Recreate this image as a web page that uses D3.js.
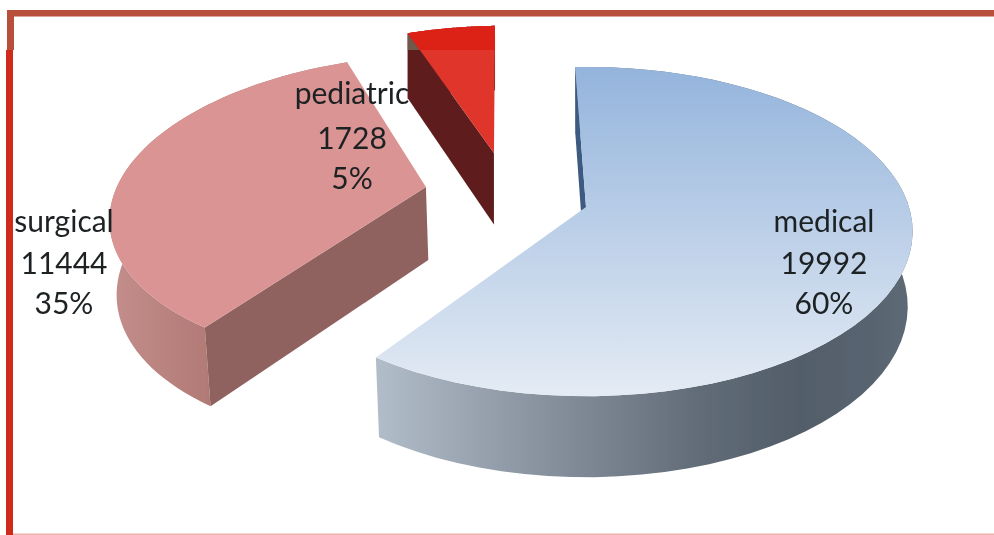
<!DOCTYPE html>
<html>
<head>
<meta charset="utf-8">
<script src="https://cdn.jsdelivr.net/npm/d3@7/dist/d3.min.js"></script>
<style>
html, body { margin: 0; padding: 0; background: #fff; overflow: hidden; }
svg { display: block; }
text { font-family: Lato, "Open Sans", sans-serif; fill: #1c2024; }
</style>
</head>
<body>
<script>
// chart data
var categories = ["medical", "surgical", "pediatric"];
var counts = [19992, 11444, 1728];
var percents = ["60%", "35%", "5%"];

var svgWidth = 994;
var svgHeight = 535;

// projection of the pie plane (unit circle) onto the screen
var cx = 586, cy = 207;
var radiusX = 323, radiusY = 161;
var persp = 0.149;
var startDeg = -2.2;

// how far each slice is pulled out, in unit circle coords
var pullU = [0, -0.505, -0.30];
var pullV = [0, -0.127, -0.353];
var sliceRadius = [1, 0.975, 1];
// the bottom rim narrows a little towards the centre
var lowShrink = [0.985, 0.985, 1];

var labelX = [824, 64, 352];
var labelY = [[232, 274, 314], [232, 274, 314], [104, 149, 189]];

var topFill = ["url(#medTop)", "#d99493", "#e0342b"];
var arcFill = ["url(#medSide)", "url(#surSide)", "#5f1f1d"];
var cutFill = ["#3e5a80", "#8f6260", "#5f1f1d"];

var svg = d3.select("body").append("svg")
  .attr("width", svgWidth)
  .attr("height", svgHeight);

var defs = svg.append("defs");

function gradient(id, x1, y1, x2, y2, stops) {
  var g = defs.append("linearGradient")
    .attr("id", id)
    .attr("gradientUnits", "userSpaceOnUse")
    .attr("x1", x1).attr("y1", y1).attr("x2", x2).attr("y2", y2);
  stops.forEach(function(s) {
    g.append("stop").attr("offset", s[0]).attr("stop-color", s[1]);
  });
}

gradient("medTop", 0, 67, 0, 396, [[0, "#94b4dc"], [1, "#e4ebf4"]]);
gradient("medSide", 380, 0, 905, 0, [[0, "#b0bcc8"], [0.25, "#8f9aa6"], [0.6, "#626d79"], [0.8, "#525d69"], [1, "#5c6874"]]);
gradient("surSide", 115, 0, 208, 0, [[0, "#c28d8a"], [1, "#b27a76"]]);

defs.append("filter").attr("id", "soft")
  .append("feGaussianBlur").attr("stdDeviation", 0.55);
defs.append("clipPath").attr("id", "aboveSeam")
  .append("rect").attr("x", 0).attr("y", 0).attr("width", svgWidth).attr("height", 50);

// unit circle coords -> screen
function project(u, v) {
  var d = 1 - persp * v;
  return [cx + radiusX * u / d, cy + radiusY * v / d];
}
// same point at the bottom of the extruded pie
function projectLow(u, v, shrink) {
  var p = project(u, v);
  return [cx + (p[0] - cx) * shrink, p[1] + 74 + 7 * v];
}

var line = d3.line();

var pie = d3.pie().sort(null)
  .startAngle(startDeg * Math.PI / 180)
  .endAngle(startDeg * Math.PI / 180 + 2 * Math.PI);

var slices = pie(counts);

var chart = svg.append("g").attr("filter", "url(#soft)");

// draw the far slices first so the overlap is right
[2, 1, 0].forEach(function(i) {
  var s = slices[i];
  var ou = pullU[i], ov = pullV[i], r = sliceRadius[i], sh = lowShrink[i];
  var steps = d3.range(0, 61).map(function(k) {
    var a = s.startAngle + (s.endAngle - s.startAngle) * k / 60;
    return [ou + r * Math.sin(a), ov - r * Math.cos(a)];
  });
  var first = steps[0];
  var g = chart.append("g");

  // outer wall
  var upper = steps.map(function(p) { return project(p[0], p[1]); });
  var lower = steps.map(function(p) { return projectLow(p[0], p[1], sh); }).reverse();
  g.append("path").attr("d", line(upper.concat(lower)) + "Z").attr("fill", arcFill[i]);

  // cut wall on the start edge, the other one is always hidden from this view
  var cut = [project(ou, ov), project(first[0], first[1]), projectLow(first[0], first[1], sh), projectLow(ou, ov, sh)];
  g.append("path").attr("d", line(cut) + "Z").attr("fill", cutFill[i]);
  if (i == 2) {
    g.append("path").attr("d", line(cut) + "Z").attr("fill", "#70584c").attr("clip-path", "url(#aboveSeam)");
  }

  // top face
  var face = [project(ou, ov)].concat(upper);
  g.append("path").attr("d", line(face) + "Z").attr("fill", topFill[i]);
  if (i == 2) {
    // seam in the source image: the top strip is a bit darker
    g.append("path").attr("d", line(face) + "Z").attr("fill", "#dc2214").attr("clip-path", "url(#aboveSeam)");
  }
});

// frame
var frame = svg.append("g").attr("filter", "url(#soft)");
frame.append("rect").attr("x", 7).attr("y", 10).attr("width", 987).attr("height", 6.5).attr("fill", "#b8503a");
frame.append("rect").attr("x", 7).attr("y", 10).attr("width", 7).attr("height", 40).attr("fill", "#b8503a");
frame.append("rect").attr("x", 6).attr("y", 50).attr("width", 7).attr("height", 485).attr("fill", "#cf2a1e");
frame.append("rect").attr("x", 13).attr("y", 533.5).attr("width", 981).attr("height", 1.5).attr("fill", "#eeb0a8");

// labels
var labels = svg.append("g").attr("filter", "url(#soft)").attr("text-anchor", "middle").attr("font-size", 30);
categories.forEach(function(name, i) {
  [name, counts[i], percents[i]].forEach(function(t, j) {
    labels.append("text")
      .attr("x", labelX[i])
      .attr("y", labelY[i][j])
      .text(t);
  });
});
</script>
</body>
</html>
